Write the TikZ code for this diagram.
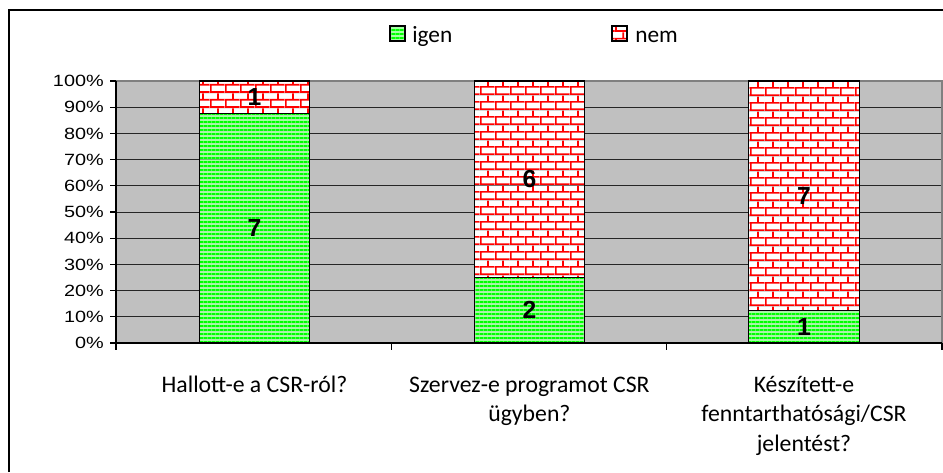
\documentclass[tikz,border=0pt]{standalone}
\usepackage{fontspec}
\setmainfont{Carlito}
\newfontfamily\axisfont[FakeStretch=1.22]{Liberation Sans}
\newfontfamily\valfont{Liberation Sans}
\usetikzlibrary{patterns.meta}

\definecolor{igengreen}{RGB}{0,255,0}
\definecolor{igenlight}{RGB}{165,255,165}
\definecolor{nemred}{RGB}{255,0,0}
\definecolor{plotgray}{RGB}{192,192,192}

\tikzdeclarepattern{
  name=greenstripes,
  type=colored,
  bounding box={(0pt,0pt) and (3pt,2.85pt)},
  tile size={(3pt,2.85pt)},
  code={
    \fill[igenlight] (0pt,0pt) rectangle (3pt,2.85pt);
    \fill[igengreen] (0pt,0pt) rectangle (3pt,1.45pt);
  }
}
\tikzdeclarepattern{
  name=redbricks,
  type=colored,
  bounding box={(0pt,0pt) and (11.25pt,11.4pt)},
  tile size={(11.25pt,11.4pt)},
  code={
    \tikzset{x=0.75pt,y=0.75pt}
    \fill[white] (0,0) rectangle (15,15.2);
    \draw[nemred, line width=1.25pt] (0,1) -- (15,1) (0,8.6) -- (15,8.6)
      (1,1) -- (1,8.6) (8.5,8.6) -- (8.5,15.2);
  }
}

\begin{document}
\begin{tikzpicture}[
    x=0.75pt, y=-0.75pt,
    frameline/.style={line width=1.1pt, black},
    gridline/.style={line width=0.75pt, black!85},
    plotborder/.style={line width=0.9pt, gray},
    axisline/.style={line width=0.9pt, black},
    igenbar/.style={pattern=greenstripes, draw=black, line width=0.9pt},
    nembar/.style={pattern=redbricks, draw=black, line width=0.9pt},
    pctlabel/.style={anchor=east, inner sep=0pt, font=\axisfont\fontsize{12.2pt}{12.2pt}\selectfont},
    vallabel/.style={inner sep=0pt, font=\valfont\bfseries\fontsize{18.5pt}{18.5pt}\selectfont},
    catlabel/.style={anchor=base, align=center, inner sep=0pt, font=\fontsize{17.8pt}{22.1pt}\selectfont},
    legtext/.style={anchor=base west, inner sep=0pt, font=\fontsize{17.5pt}{17.5pt}\selectfont},
  ]
  \useasboundingbox (0,0) rectangle (943,472);

  % Frame
  \draw[frameline] (9,472) -- (9,10) -- (943,10);

  % Plot area
  \fill[plotgray] (116,81) rectangle (942,343);
  \foreach \p in {10,20,...,90}
    \draw[gridline] (116,{343-2.62*\p}) -- (942,{343-2.62*\p});
  \draw[plotborder] (116,81) -- (942,81) -- (942,343);

  % Bars (igen / nem, out of 8)
  \foreach \cx/\yes/\no [count=\i] in {254.5/7/1, 529.4/2/6, 804/1/7} {
    \pgfmathsetmacro{\ymid}{343-262*\yes/8}
    \draw[igenbar] ({\cx-55.3},343) rectangle ({\cx+55.3},\ymid);
    \draw[nembar] ({\cx-55.3},\ymid) rectangle ({\cx+55.3},81);
    \node[vallabel] (yes\i) at (\cx,{(343+\ymid)/2}) {\yes};
    \node[vallabel] (no\i) at (\cx,{(81+\ymid)/2}) {\no};
  }

  % Axes
  \draw[axisline] (116,81) -- (116,343) -- (942,343);
  \foreach \p in {0,10,...,100} {
    \draw[axisline] (110,{343-2.62*\p}) -- (116,{343-2.62*\p});
    \node[pctlabel] (pct\p) at (104,{343-2.62*\p}) {\p\%};
  }
  \foreach \x in {116,391.3,666.7,942}
    \draw[axisline] (\x,343) -- (\x,350);

  % Categories (base = last line)
  \node[catlabel] (cat1) at (254.5,392) {Hallott-e a CSR-ról?};
  \node[catlabel] (cat2) at (529.4,421.5) {Szervez-e programot CSR\\ügyben?};
  \node[catlabel] (cat3) at (804,451) {Készített-e\\fenntarthatósági/CSR\\jelentést?};

  % Legend
  \draw[igenbar] (390,26) rectangle (405,41);
  \node[legtext] (legyes) at (412,42) {igen};
  \draw[nembar] (612,26) rectangle (627,41);
  \node[legtext] (legno) at (635,42) {nem};
\end{tikzpicture}
\end{document}
